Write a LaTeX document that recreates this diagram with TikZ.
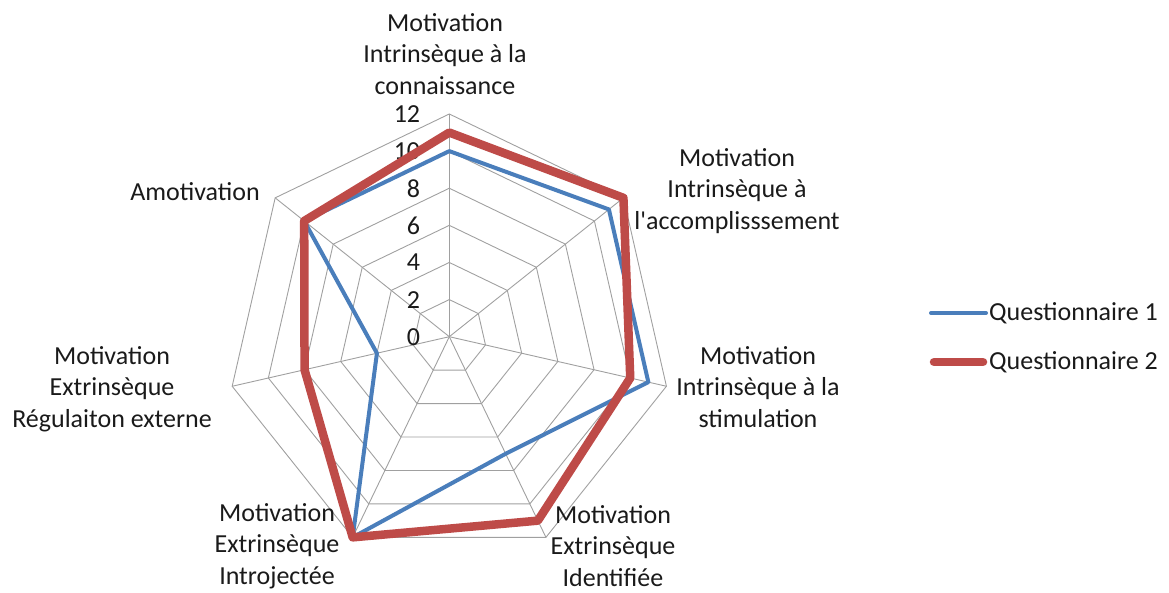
\documentclass[tikz,border=0pt]{standalone}
\usepackage{fontspec}
\setmainfont{Carlito}
\definecolor{qone}{HTML}{4A7EBB}
\definecolor{qtwo}{HTML}{BE4B48}
\definecolor{gridc}{HTML}{A0A0A0}
\definecolor{txt}{HTML}{1A1A1A}
\begin{document}
\begin{tikzpicture}[x=1pt,y=1pt,
  font=\fontsize{26}{31.5}\selectfont, text=txt,
  gridline/.style={draw=gridc, line width=0.9pt},
  lbl/.style={align=center, inner sep=0pt},
  tick/.style={anchor=east, inner sep=0pt},
  serone/.style={draw=qone, line width=4pt, line join=round},
  sertwo/.style={draw=qtwo, line width=8.5pt, line join=round},
  legtext/.style={anchor=west, inner sep=0pt}]
\useasboundingbox (0,0) rectangle (1169,-592);
\def\u{18.56}
\begin{scope}[shift={(449.3,-336.7)}]
  \coordinate (C) at (0,0);
  % rings
  \foreach \v in {2,4,...,12}{
    \draw[gridline] (90:{\v*\u}) \foreach \k in {1,...,6}{ -- ({90-\k*360/7}:{\v*\u}) } -- cycle;
  }
  % spokes
  \foreach \k in {0,...,6}{
    \coordinate (S\k) at ({90-\k*360/7}:{12*\u});
    \draw[gridline] (C) -- (S\k);
  }
  % tick labels
  \foreach \v in {0,2,...,12}{
    \node[tick] (t\v) at (-29,{\v*\u}) {\v};
  }
  % series
  \foreach \v [count=\k from 0] in {10,11,11,7,12,4,10}{
    \coordinate (a\k) at ({90-\k*360/7}:{\v*\u});
  }
  \foreach \v [count=\k from 0] in {11,12,10,11,12,8,10}{
    \coordinate (b\k) at ({90-\k*360/7}:{\v*\u});
  }
  \draw[serone] (a0) -- (a1) -- (a2) -- (a3) -- (a4) -- (a5) -- (a6) -- cycle;
  \draw[sertwo] (b0) -- (b1) -- (b2) -- (b3) -- (b4) -- (b5) -- (b6) -- cycle;
\end{scope}
% axis labels
\node[lbl] (l0) at (445,-54) {Motivation\\Intrinsèque à la\\connaissance};
\node[lbl] (l1) at (737,-191) {Motivation\\Intrinsèque à\\l\textquotesingle accomplisssement};
\node[lbl] (l2) at (758,-387) {Motivation\\Intrinsèque à la\\stimulation};
\node[lbl] (l3) at (613,-546) {Motivation\\Extrinsèque\\Identifiée};
\node[lbl] (l4) at (277,-546) {Motivation\\Extrinsèque\\Introjectée};
\node[lbl] (l5) at (112,-389) {Motivation\\Extrinsèque\\Régulaiton externe};
\node[lbl] (l6) at (195,-192) {Amotivation};
% legend
\coordinate (k1a) at (931,-313);
\coordinate (k1b) at (986,-313);
\coordinate (k2a) at (934,-362);
\coordinate (k2b) at (983,-362);
\draw[serone, line cap=round] (k1a) -- (k1b);
\draw[sertwo, line cap=round] (k2a) -- (k2b);
\node[legtext] (g1) at (989,-313) {Questionnaire 1};
\node[legtext] (g2) at (989,-362) {Questionnaire 2};
\end{tikzpicture}
\end{document}
